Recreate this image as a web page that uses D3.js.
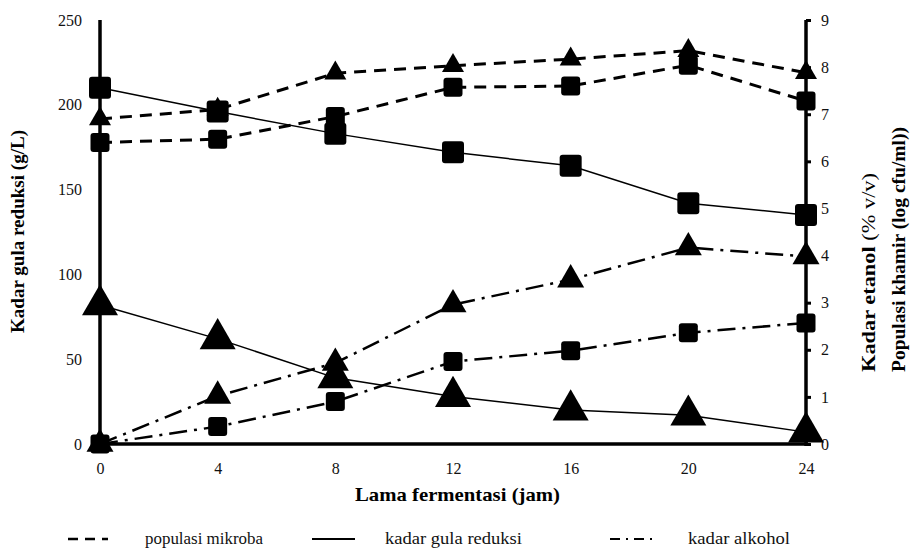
<!DOCTYPE html>
<html>
<head>
<meta charset="utf-8">
<script src="https://cdn.jsdelivr.net/npm/d3@7"></script>
<style>
  body { margin: 0; background: #fff; }
  svg, svg text { font-family: "Times New Roman", "Liberation Serif", "DejaVu Serif", serif; }
</style>
</head>
<body>
<svg id="chart"></svg>
<script>
// jam fermentasi
var jam = [0, 4, 8, 12, 16, 20, 24];

// kadar gula reduksi (g/L) - sumbu kiri
var gulaKotak = [210, 196, 183, 172, 164, 142, 135];
var gulaSegitiga = [82, 62, 39, 28, 20, 17, 7];

// populasi khamir (log cfu/ml) - sumbu kanan
var populasiKotak = [6.4, 6.47, 6.95, 7.57, 7.6, 8.04, 7.28];
var populasiSegitiga = [6.9, 7.1, 7.87, 8.03, 8.17, 8.35, 7.88];

// kadar etanol (% v/v) - sumbu kanan
var alkoholKotak = [0, 0.37, 0.9, 1.75, 1.98, 2.36, 2.57];
var alkoholSegitiga = [0, 1.02, 1.72, 2.96, 3.49, 4.17, 3.98];

var xTicks = [0, 4, 8, 12, 16, 20, 24];
var leftTicks = [0, 50, 100, 150, 200, 250];
var rightTicks = [0, 1, 2, 3, 4, 5, 6, 7, 8, 9];

var width = 911, height = 549;
var svg = d3.select("#chart").attr("width", width).attr("height", height);

var x = d3.scaleLinear().domain([0, 24]).range([100, 806]);
var yL = d3.scaleLinear().domain([0, 250]).range([444, 20]);
var yR = d3.scaleLinear().domain([0, 9]).range([444, 20]);

var dashed = "12,8";
var dashDot = "18,7,3,7";

var series = [
  { values: populasiKotak, y: yR, dash: dashed, lw: 3, shape: "square", size: 19 },
  { values: populasiSegitiga, y: yR, dash: dashed, lw: 3, shape: "triangle", size: 22 },
  { values: gulaKotak, y: yL, dash: null, lw: 1.5, shape: "square", size: 22 },
  { values: gulaSegitiga, y: yL, dash: null, lw: 1.5, shape: "triangle", size: 36 },
  { values: alkoholKotak, y: yR, dash: dashDot, lw: 2.5, shape: "square", size: 19 },
  { values: alkoholSegitiga, y: yR, dash: dashDot, lw: 2.5, shape: "triangle", size: 27 }
];

var serif = "Times New Roman, Liberation Serif, serif";

// axes
var xAxis = d3.axisBottom(x).tickValues(xTicks).tickSize(0).tickPadding(19);
svg.append("g").attr("transform", "translate(0,444)").call(xAxis)
  .attr("font-family", serif).attr("font-size", 16)
  .call(g => g.select(".domain").remove())
  .selectAll("text").attr("fill", "#111");

var leftAxis = d3.axisLeft(yL).tickValues(leftTicks).tickSize(0).tickPadding(18);
svg.append("g").attr("transform", "translate(100,0)").call(leftAxis)
  .attr("font-family", serif).attr("font-size", 16)
  .call(g => g.select(".domain").remove())
  .selectAll("text").attr("fill", "#111");

var rightAxis = d3.axisRight(yR).tickValues(rightTicks).tickSize(5).tickPadding(10);
var ra = svg.append("g").attr("transform", "translate(806,0)").call(rightAxis)
  .attr("font-family", serif).attr("font-size", 16)
  .call(g => g.select(".domain").remove());
ra.selectAll("line").attr("stroke", "#000").attr("stroke-width", 3);
ra.selectAll("text").attr("fill", "#111");

// lines
var line = (ys) => d3.line().x((d, i) => x(jam[i])).y(d => ys(d));

series.forEach(s => {
  svg.append("path")
    .attr("d", line(s.y)(s.values))
    .attr("fill", "none")
    .attr("stroke", "#000")
    .attr("stroke-width", s.lw)
    .attr("stroke-dasharray", s.dash);
});

// axis lines (thick)
svg.append("line").attr("x1", 100).attr("x2", 100).attr("y1", 20).attr("y2", 446)
  .attr("stroke", "#000").attr("stroke-width", 3.5);
svg.append("line").attr("x1", 98).attr("x2", 808).attr("y1", 444).attr("y2", 444)
  .attr("stroke", "#000").attr("stroke-width", 3.5);
svg.append("line").attr("x1", 806).attr("x2", 806).attr("y1", 20).attr("y2", 446)
  .attr("stroke", "#000").attr("stroke-width", 3.5);

// markers
series.forEach(s => {
  var g = svg.append("g");
  if (s.shape === "square") {
    g.selectAll("rect").data(s.values).enter().append("rect")
      .attr("x", (d, i) => x(jam[i]) - s.size / 2)
      .attr("y", d => s.y(d) - s.size / 2)
      .attr("width", s.size)
      .attr("height", s.size)
      .attr("rx", 3)
      .attr("fill", "#000");
  } else {
    var area = Math.sqrt(3) / 4 * s.size * s.size;
    g.selectAll("path").data(s.values).enter().append("path")
      .attr("d", d3.symbol(d3.symbolTriangle, area))
      .attr("transform", (d, i) => "translate(" + x(jam[i]) + "," + s.y(d) + ")")
      .attr("fill", "#000");
  }
});

// axis titles
svg.append("text")
  .attr("transform", "translate(24,333) rotate(-90)")
  .attr("font-size", 18).attr("font-weight", "bold")
  .attr("textLength", 203).attr("lengthAdjust", "spacingAndGlyphs")
  .text("Kadar gula reduksi (g/L)");

svg.append("text")
  .attr("x", 355).attr("y", 501)
  .attr("font-size", 19).attr("font-weight", "bold")
  .attr("textLength", 205).attr("lengthAdjust", "spacingAndGlyphs")
  .text("Lama fermentasi (jam)");

var t1 = svg.append("text")
  .attr("transform", "translate(875,372) rotate(-90)")
  .attr("font-size", 19)
  .attr("textLength", 199).attr("lengthAdjust", "spacingAndGlyphs");
t1.append("tspan").attr("font-weight", "bold").text("Kadar etanol ");
t1.append("tspan").text("(% v/v)");

svg.append("text")
  .attr("transform", "translate(905,372) rotate(-90)")
  .attr("font-size", 19).attr("font-weight", "bold")
  .attr("textLength", 245).attr("lengthAdjust", "spacingAndGlyphs")
  .text("Populasi khamir  (log cfu/ml))");

// legend
var legend = [
  { label: "populasi mikroba", dash: "10,7", lw: 2.5, x0: 68, x1: 108, tx: 145, tw: 118 },
  { label: "kadar gula reduksi", dash: null, lw: 2, x0: 312, x1: 355, tx: 385, tw: 137 },
  { label: "kadar alkohol", dash: "10,6,2,6", lw: 2, x0: 610, x1: 655, tx: 688, tw: 102 }
];
var lg = svg.append("g");
legend.forEach(l => {
  lg.append("line").attr("x1", l.x0).attr("x2", l.x1).attr("y1", 539).attr("y2", 539)
    .attr("stroke", "#000").attr("stroke-width", l.lw).attr("stroke-dasharray", l.dash);
  lg.append("text").attr("x", l.tx).attr("y", 544).attr("font-size", 16).attr("fill", "#111")
    .attr("textLength", l.tw).attr("lengthAdjust", "spacingAndGlyphs")
    .text(l.label);
});
</script>
</body>
</html>
